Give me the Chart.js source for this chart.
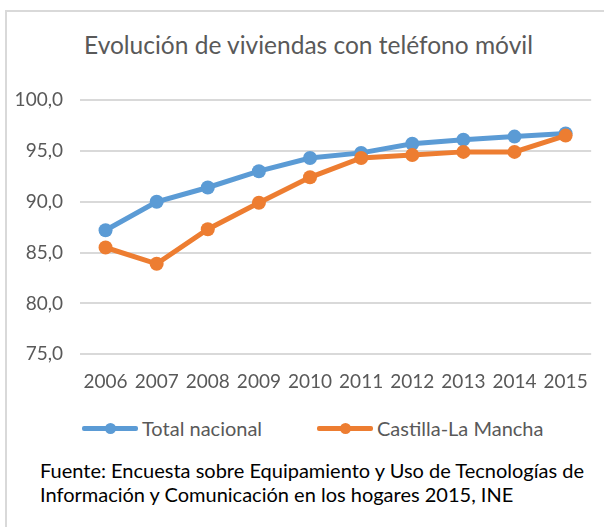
<!DOCTYPE html>
<html>
<head>
<meta charset="utf-8">
<script src="https://cdn.jsdelivr.net/npm/chart.js@4.4.0/dist/chart.umd.min.js"></script>
<style>
  html, body { margin: 0; padding: 0; background: #fff; }
  body { width: 604px; height: 527px; position: relative; overflow: hidden; font-family: Lato, sans-serif; }
  #frame { position: absolute; left: 5px; top: 10px; width: 640px; height: 560px; border: 2px solid #d9d9d9; box-sizing: border-box; }
  #title { position: absolute; left: 0; width: 617px; top: 30px; text-align: center; font-size: 24.5px; color: #595959; white-space: nowrap; }
  #wrap { position: absolute; left: 0; top: 0; width: 604px; height: 400px; }
  #legend { position: absolute; top: 416px; left: 0; height: 24px; font-size: 20px; color: #595959; }
  .item { position: absolute; top: 0; white-space: nowrap; }
  .swatch { position: absolute; top: 10px; width: 56px; height: 4.5px; border-radius: 2px; }
  .dot { position: absolute; top: -3px; left: 23px; width: 10.5px; height: 10.5px; border-radius: 6px; }
  .lbl { position: absolute; left: 60px; top: 0; line-height: 24px; }
  #source { position: absolute; left: 40px; top: 458px; font-size: 20px; line-height: 24px; color: #000; white-space: nowrap; }
</style>
</head>
<body>
<div id="frame"></div>
<div id="title">Evolución de viviendas con teléfono móvil</div>
<div id="wrap"><canvas id="myChart"></canvas></div>
<div id="legend"></div>
<div id="source">Fuente: Encuesta sobre Equipamiento y Uso de Tecnologías de<br>Información y Comunicación en los hogares 2015, INE</div>
<script>
// años y porcentajes
var years = ['2006', '2007', '2008', '2009', '2010', '2011', '2012', '2013', '2014', '2015'];
var totalNacional = [87.2, 90.0, 91.4, 93.0, 94.3, 94.8, 95.7, 96.1, 96.4, 96.7];
var castillaLaMancha = [85.5, 83.9, 87.3, 89.9, 92.4, 94.3, 94.6, 94.9, 94.9, 96.5];
var seriesNames = ['Total nacional', 'Castilla-La Mancha'];
var seriesColors = ['#5b9bd5', '#ed7d31'];
var legendLeft = [82, 317];

var chart = new Chart('myChart', {
  type: 'line',
  data: {
    labels: years,
    datasets: [
      {
        label: seriesNames[0],
        data: totalNacional,
        borderColor: seriesColors[0],
        backgroundColor: seriesColors[0],
        borderWidth: 5,
        pointRadius: 7,
        pointBorderWidth: 0,
        tension: 0,
        order: 2
      },
      {
        label: seriesNames[1],
        data: castillaLaMancha,
        borderColor: seriesColors[1],
        backgroundColor: seriesColors[1],
        borderWidth: 5,
        pointRadius: 7,
        pointBorderWidth: 0,
        tension: 0,
        order: 1
      }
    ]
  },
  options: {
    responsive: true,
    maintainAspectRatio: false,
    animation: false,
    layout: { padding: { top: 100, left: 0, right: 1, bottom: 0 } },
    plugins: {
      legend: { display: false },
      tooltip: { enabled: false }
    },
    scales: {
      x: {
        offset: true,
        grid: { display: false, drawTicks: false },
        border: { display: false },
        ticks: { color: '#595959', font: { family: 'Lato', size: 19 }, padding: 16, maxRotation: 0 },
        afterFit: function (s) { s.height = 45.7; }
      },
      y: {
        min: 75,
        max: 100,
        ticks: {
          stepSize: 5,
          color: '#595959',
          font: { family: 'Lato', size: 19 },
          padding: 17,
          callback: function (v) { return v.toFixed(1).replace('.', ','); }
        },
        grid: { color: '#d9d9d9', lineWidth: 2, drawTicks: false },
        border: { display: false },
        afterFit: function (s) { s.width = 80; }
      }
    }
  }
});

// leyenda con línea y marcador
var legend = document.getElementById('legend');
seriesNames.forEach(function (name, i) {
  var item = document.createElement('div');
  item.className = 'item';
  item.style.left = legendLeft[i] + 'px';
  item.innerHTML = '<div class="swatch" style="background:' + seriesColors[i] + '"><div class="dot" style="background:' + seriesColors[i] + '"></div></div><div class="lbl">' + name + '</div>';
  legend.appendChild(item);
});
</script>
</body>
</html>
